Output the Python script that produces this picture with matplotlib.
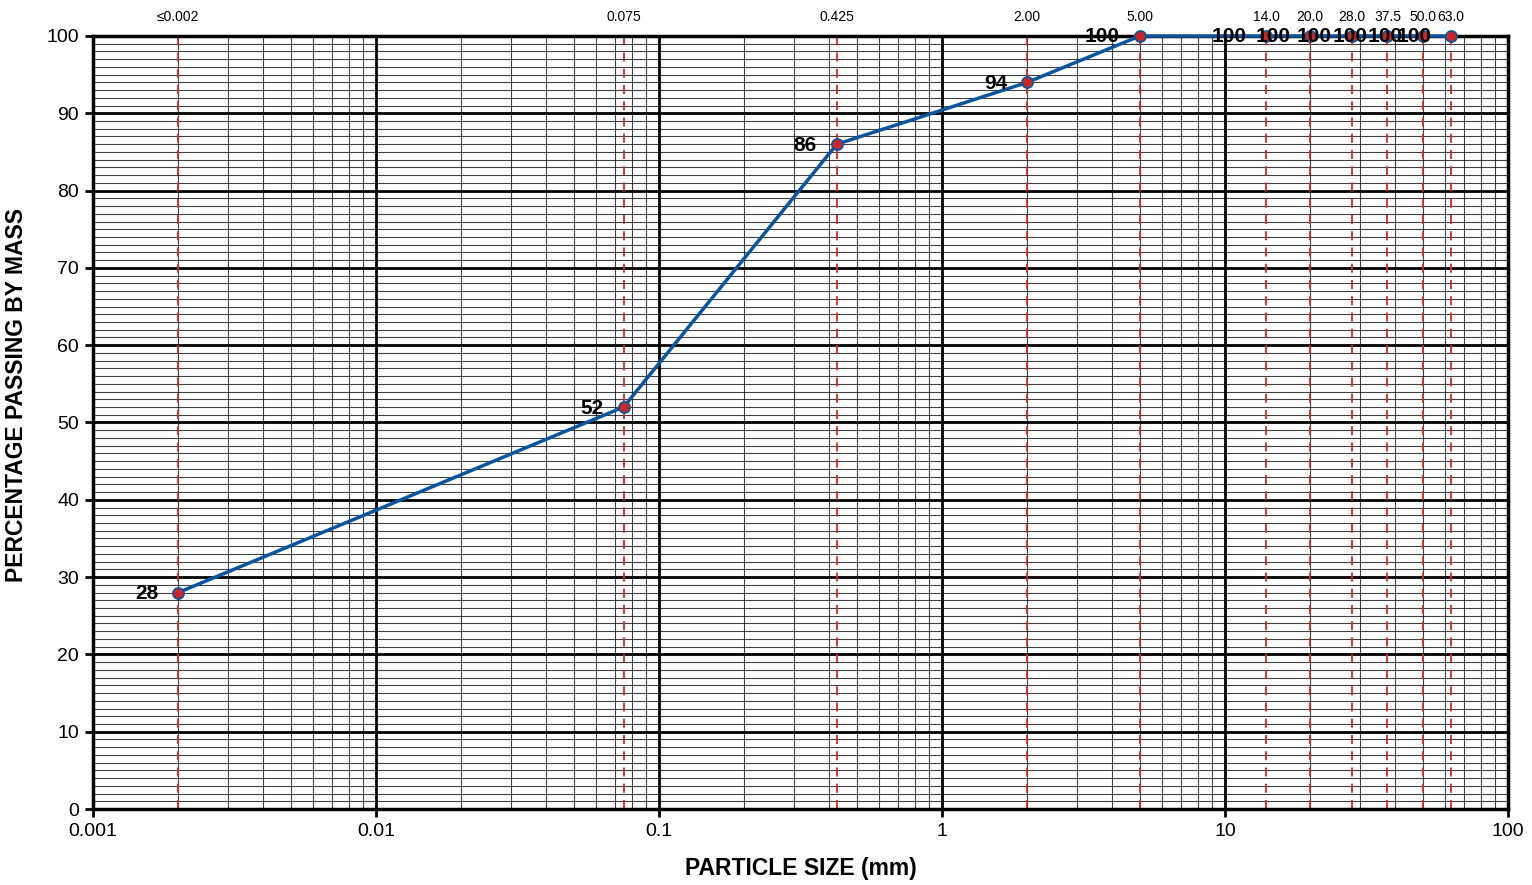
import matplotlib
matplotlib.use("Agg")
import matplotlib.pyplot as plt
from matplotlib.ticker import LogLocator, MultipleLocator, FixedLocator, NullFormatter

# Sieve sizes (mm) and percentage passing
sizes = [0.002, 0.075, 0.425, 2.0, 5.0, 14.0, 20.0, 28.0, 37.5, 50.0, 63.0]
passing = [28, 52, 86, 94, 100, 100, 100, 100, 100, 100, 100]
size_labels = ["≤0.002", "0.075", "0.425", "2.00", "5.00", "14.0", "20.0",
               "28.0", "37.5", "50.0", "63.0"]
x_ticks = [0.001, 0.01, 0.1, 1, 10, 100]
x_tick_labels = ["0.001", "0.01", "0.1", "1", "10", "100"]
y_ticks = list(range(0, 101, 10))

plt.rcParams['font.family'] = ['Liberation Sans', 'DejaVu Sans']

fig = plt.figure(figsize=(15.32, 8.85), dpi=100)
ax = fig.add_axes([93 / 1532, 1 - 809 / 885, (1508 - 93) / 1532, (809 - 36) / 885])

ax.set_xscale('log')
ax.set_xlim(0.001, 100)
ax.set_ylim(0, 100)

# Grid: minor lines every 1 % and every log sub-decade, heavy at majors
ax.xaxis.set_major_locator(FixedLocator(x_ticks))
ax.set_xticklabels(x_tick_labels)
ax.xaxis.set_minor_locator(LogLocator(base=10, subs=range(2, 10), numticks=20))
ax.xaxis.set_minor_formatter(NullFormatter())
ax.yaxis.set_major_locator(FixedLocator(y_ticks))
ax.yaxis.set_minor_locator(MultipleLocator(1))

ax.grid(which='minor', color='black', linewidth=0.8, alpha=0.75)
ax.grid(which='major', color='black', linewidth=2.0)
ax.set_axisbelow(True)

ax.tick_params(axis='both', which='major', direction='out', length=6, width=2,
               labelsize=14, pad=4)
ax.tick_params(axis='both', which='minor', length=0)
for sp in ax.spines.values():
    sp.set_linewidth(2.5)

# Sieve reference lines with size labels above the plot
for s, lab in zip(sizes, size_labels):
    ax.axvline(s, color='#d42a20', linestyle=(0, (5, 4)), linewidth=1.3, zorder=2.5)
    ax.text(s, 1.015, lab, transform=ax.get_xaxis_transform(), ha='center',
            va='bottom', fontsize=10)

# Grading curve
ax.plot(sizes, passing, color='#0b559e', linewidth=2.5, zorder=4,
        marker='o', markersize=8, markerfacecolor='#c8282a',
        markeredgecolor='#0b559e', markeredgewidth=1.2, clip_on=False)

for s, p in zip(sizes, passing):
    ax.annotate(f"{p}", (s, p), xytext=(-20, -1), textcoords='offset pixels',
                ha='right', va='center', fontsize=15, fontweight='bold', zorder=5,
                annotation_clip=False)

ax.set_xlabel("PARTICLE SIZE (mm)", fontsize=16.5, fontweight='bold', labelpad=12)
ax.set_ylabel("PERCENTAGE PASSING BY MASS", fontsize=16.5, fontweight='bold')
ax.yaxis.set_label_coords(-0.046, 0.536)

fig.savefig("out.png", dpi=100)
